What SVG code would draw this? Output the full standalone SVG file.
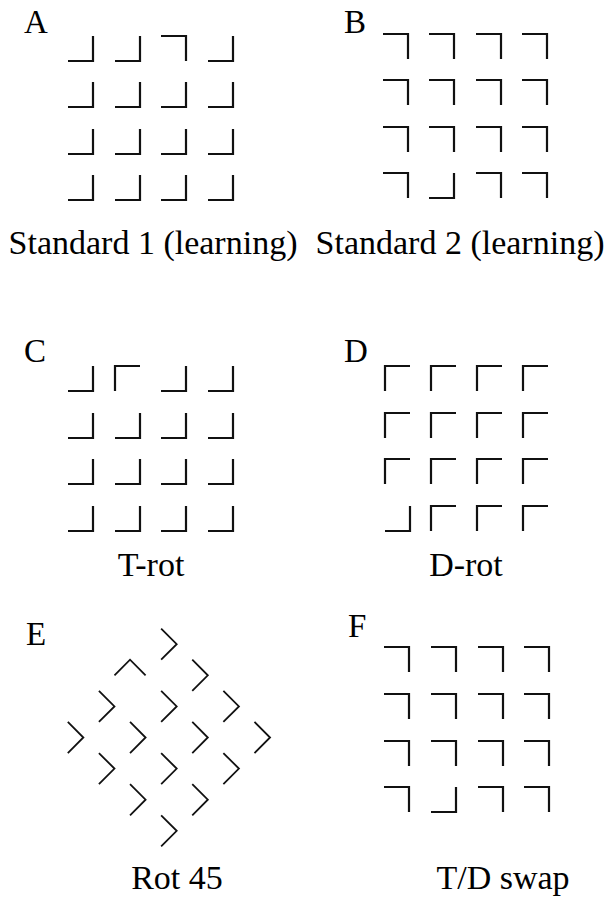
<svg xmlns="http://www.w3.org/2000/svg" width="616" height="903" viewBox="0 0 616 903">
<style>
text{font-size:33px;fill:#000}
.m{text-anchor:middle;font-size:34px}
.L{fill:none;stroke:#111;stroke-width:2.2;stroke-linecap:butt;stroke-linejoin:miter}
.R{fill:none;stroke:#111;stroke-width:1.8;stroke-linejoin:miter}
</style>
<defs>
<path id="br" class="L" d="M0,25H25V0"/>
<path id="tr" class="L" d="M0,0H25V25"/>
<path id="tl" class="L" d="M0,25V0H25"/>
<path id="rbr" class="R" d="M-22,0H0V-22"/>
<path id="rtr" class="R" d="M-22,-22H0V0"/>
</defs>
<rect width="616" height="903" fill="#fff"/>

<g id="panelA" font-family="'Liberation Serif', 'Times New Roman', 'DejaVu Serif', serif">
<text x="24" y="33">A</text>
<use href="#br" x="68" y="36"/><use href="#br" x="115" y="36"/><use href="#tr" x="161" y="36"/><use href="#br" x="208" y="36"/>
<use href="#br" x="68" y="82"/><use href="#br" x="115" y="82"/><use href="#br" x="161" y="82"/><use href="#br" x="208" y="82"/>
<use href="#br" x="68" y="129"/><use href="#br" x="115" y="129"/><use href="#br" x="161" y="129"/><use href="#br" x="208" y="129"/>
<use href="#br" x="68" y="175"/><use href="#br" x="115" y="175"/><use href="#br" x="161" y="175"/><use href="#br" x="208" y="175"/>
<text class="m" x="153" y="254">Standard 1 (learning)</text>
</g>

<g id="panelB" font-family="'Liberation Serif', 'Times New Roman', 'DejaVu Serif', serif">
<text x="344" y="33">B</text>
<use href="#tr" x="383" y="34"/><use href="#tr" x="429" y="34"/><use href="#tr" x="476" y="34"/><use href="#tr" x="522" y="34"/>
<use href="#tr" x="383" y="80"/><use href="#tr" x="429" y="80"/><use href="#tr" x="476" y="80"/><use href="#tr" x="522" y="80"/>
<use href="#tr" x="383" y="127"/><use href="#tr" x="429" y="127"/><use href="#tr" x="476" y="127"/><use href="#tr" x="522" y="127"/>
<use href="#tr" x="383" y="173"/><use href="#br" x="429" y="173"/><use href="#tr" x="476" y="173"/><use href="#tr" x="522" y="173"/>
<text class="m" x="460" y="254">Standard 2 (learning)</text>
</g>

<g id="panelC" font-family="'Liberation Serif', 'Times New Roman', 'DejaVu Serif', serif">
<text x="24" y="362">C</text>
<use href="#br" x="68" y="366"/><use href="#tl" x="115" y="366"/><use href="#br" x="161" y="366"/><use href="#br" x="208" y="366"/>
<use href="#br" x="68" y="413"/><use href="#br" x="115" y="413"/><use href="#br" x="161" y="413"/><use href="#br" x="208" y="413"/>
<use href="#br" x="68" y="459"/><use href="#br" x="115" y="459"/><use href="#br" x="161" y="459"/><use href="#br" x="208" y="459"/>
<use href="#br" x="68" y="506"/><use href="#br" x="115" y="506"/><use href="#br" x="161" y="506"/><use href="#br" x="208" y="506"/>
<text class="m" x="151" y="576">T-rot</text>
</g>

<g id="panelD" font-family="'Liberation Serif', 'Times New Roman', 'DejaVu Serif', serif">
<text x="344" y="362">D</text>
<use href="#tl" x="385" y="366"/><use href="#tl" x="431" y="366"/><use href="#tl" x="477" y="366"/><use href="#tl" x="523" y="366"/>
<use href="#tl" x="385" y="413"/><use href="#tl" x="431" y="413"/><use href="#tl" x="477" y="413"/><use href="#tl" x="523" y="413"/>
<use href="#tl" x="385" y="459"/><use href="#tl" x="431" y="459"/><use href="#tl" x="477" y="459"/><use href="#tl" x="523" y="459"/>
<use href="#br" x="385" y="506"/><use href="#tl" x="431" y="506"/><use href="#tl" x="477" y="506"/><use href="#tl" x="523" y="506"/>
<text class="m" x="466" y="576">D-rot</text>
</g>

<g id="panelE" font-family="'Liberation Serif', 'Times New Roman', 'DejaVu Serif', serif">
<text x="26" y="645">E</text>
<g transform="translate(176.7,737.5) rotate(-45)">
<use href="#rbr" x="-66" y="-66"/><use href="#rbr" x="-22" y="-66"/><use href="#rtr" x="22" y="-66"/><use href="#rbr" x="66" y="-66"/>
<use href="#rbr" x="-66" y="-22"/><use href="#rbr" x="-22" y="-22"/><use href="#rbr" x="22" y="-22"/><use href="#rbr" x="66" y="-22"/>
<use href="#rbr" x="-66" y="22"/><use href="#rbr" x="-22" y="22"/><use href="#rbr" x="22" y="22"/><use href="#rbr" x="66" y="22"/>
<use href="#rbr" x="-66" y="66"/><use href="#rbr" x="-22" y="66"/><use href="#rbr" x="22" y="66"/><use href="#rbr" x="66" y="66"/>
</g>
<text class="m" x="177" y="889">Rot 45</text>
</g>

<g id="panelF" font-family="'Liberation Serif', 'Times New Roman', 'DejaVu Serif', serif">
<text x="348" y="637">F</text>
<use href="#tr" x="384" y="647"/><use href="#tr" x="431" y="647"/><use href="#tr" x="478" y="647"/><use href="#tr" x="524" y="647"/>
<use href="#tr" x="384" y="694"/><use href="#tr" x="431" y="694"/><use href="#tr" x="478" y="694"/><use href="#tr" x="524" y="694"/>
<use href="#tr" x="384" y="741"/><use href="#tr" x="431" y="741"/><use href="#tr" x="478" y="741"/><use href="#tr" x="524" y="741"/>
<use href="#tr" x="384" y="787"/><use href="#br" x="431" y="787"/><use href="#tr" x="478" y="787"/><use href="#tr" x="524" y="787"/>
<text class="m" x="503" y="889">T/D swap</text>
</g>
</svg>
